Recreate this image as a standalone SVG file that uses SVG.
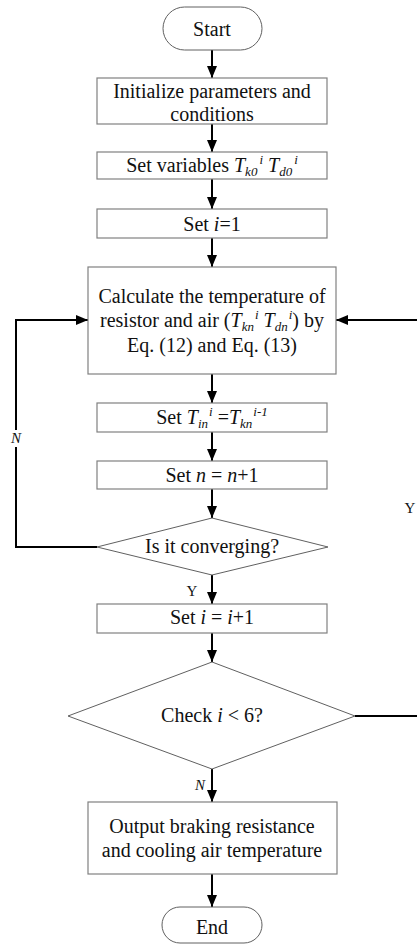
<svg xmlns="http://www.w3.org/2000/svg" width="417" height="946" viewBox="0 0 417 946">
<defs>
<marker id="ah" markerUnits="userSpaceOnUse" markerWidth="12" markerHeight="10" refX="12" refY="5" orient="auto">
<path d="M0,0 L12,5 L0,10 z" fill="#000"/>
</marker>
<style>
.box{fill:#fff;stroke:#808080;stroke-width:1.2}
.dia{fill:#fff;stroke:#606060;stroke-width:1}
.t{font-family:"Liberation Serif","Times New Roman",serif;font-size:20px;fill:#111;text-anchor:middle}
.i{font-style:italic}
.s{font-size:13px;font-style:italic}
.lb{font-family:"Liberation Serif","Times New Roman",serif;font-size:15px;fill:#111;text-anchor:middle}
.c{fill:none;stroke:#000;stroke-width:2}
</style>
</defs>
<rect width="417" height="946" fill="#fff"/>
<g id="connectors">
<line class="c" x1="212" y1="50" x2="212" y2="78" marker-end="url(#ah)"/>
<line class="c" x1="212" y1="124" x2="212" y2="152" marker-end="url(#ah)"/>
<line class="c" x1="212" y1="179" x2="212" y2="209" marker-end="url(#ah)"/>
<line class="c" x1="212" y1="238" x2="212" y2="267" marker-end="url(#ah)"/>
<line class="c" x1="212" y1="374" x2="212" y2="403" marker-end="url(#ah)"/>
<line class="c" x1="212" y1="432" x2="212" y2="461" marker-end="url(#ah)"/>
<line class="c" x1="212" y1="489" x2="212" y2="518" marker-end="url(#ah)"/>
<line class="c" x1="212" y1="575" x2="212" y2="604" marker-end="url(#ah)"/>
<line class="c" x1="212" y1="633" x2="212" y2="662" marker-end="url(#ah)"/>
<line class="c" x1="212" y1="769" x2="212" y2="802" marker-end="url(#ah)"/>
<line class="c" x1="212" y1="874" x2="212" y2="907" marker-end="url(#ah)"/>
<path class="c" d="M97,547 H16 V447"/>
<path class="c" d="M16,430 V320 H88" marker-end="url(#ah)"/>
<path class="c" d="M355,716 H421 V320 H336" marker-end="url(#ah)"/>
<text class="lb i" x="16" y="443">N</text>
<text class="lb" x="192" y="596">Y</text>
<text class="lb i" x="200" y="790">N</text>
<text class="lb" x="410" y="513">Y</text>
</g>
<g id="start">
<rect x="163" y="7" width="99" height="43" rx="21.5" class="dia"/>
<text class="t" x="212" y="36">Start</text>
</g>
<g id="init">
<rect x="97" y="78" width="230" height="46" class="box"/>
<text class="t" x="212" y="98">Initialize parameters and</text>
<text class="t" x="212" y="121">conditions</text>
</g>
<g id="setvar">
<rect x="97" y="152" width="230" height="27" class="box"/>
<text class="t" x="212" y="172">Set variables <tspan class="i">T</tspan><tspan class="s" dy="4">k0</tspan><tspan class="s" dy="-12" dx="2">i</tspan><tspan dy="8"> </tspan><tspan class="i">T</tspan><tspan class="s" dy="4">d0</tspan><tspan class="s" dy="-12" dx="2">i</tspan></text>
</g>
<g id="seti1">
<rect x="97" y="209" width="230" height="29" class="box"/>
<text class="t" x="212" y="231">Set <tspan class="i">i</tspan>=1</text>
</g>
<g id="calc">
<rect x="88" y="267" width="248" height="107" class="box"/>
<text class="t" x="212" y="303">Calculate the temperature of</text>
<text class="t" x="212" y="327">resistor and air (<tspan class="i">T</tspan><tspan class="s" dy="4">kn</tspan><tspan class="s" dy="-12" dx="1">i</tspan><tspan dy="8"> </tspan><tspan class="i">T</tspan><tspan class="s" dy="4">dn</tspan><tspan class="s" dy="-12" dx="1">i</tspan><tspan dy="8">) by</tspan></text>
<text class="t" x="212" y="352">Eq. (12) and Eq. (13)</text>
</g>
<g id="settin">
<rect x="97" y="403" width="230" height="29" class="box"/>
<text class="t" x="212" y="424">Set <tspan class="i">T</tspan><tspan class="s" dy="4">in</tspan><tspan class="s" dy="-12" dx="1">i</tspan><tspan dy="8"> =</tspan><tspan class="i">T</tspan><tspan class="s" dy="4">kn</tspan><tspan class="s" dy="-12" dx="1">i-1</tspan></text>
</g>
<g id="setn">
<rect x="97" y="461" width="230" height="28" class="box"/>
<text class="t" x="212" y="482">Set <tspan class="i">n</tspan> = <tspan class="i">n</tspan>+1</text>
</g>
<g id="converge">
<polygon points="212,518 328,547 212,575 97,547" class="dia"/>
<text class="t" x="212" y="553">Is it converging?</text>
</g>
<g id="setiplus">
<rect x="97" y="604" width="230" height="29" class="box"/>
<text class="t" x="212" y="624">Set <tspan class="i">i</tspan> = <tspan class="i">i</tspan>+1</text>
</g>
<g id="check">
<polygon points="212,662 355,716 212,769 68,716" class="dia"/>
<text class="t" x="212" y="722">Check <tspan class="i">i</tspan> &lt; 6?</text>
</g>
<g id="output">
<rect x="88" y="802" width="249" height="72" class="box"/>
<text class="t" x="212" y="833">Output braking resistance</text>
<text class="t" x="212" y="857">and cooling air temperature</text>
</g>
<g id="end">
<rect x="162" y="907" width="100" height="36" rx="18" class="dia"/>
<text class="t" x="212" y="934">End</text>
</g>
</svg>
